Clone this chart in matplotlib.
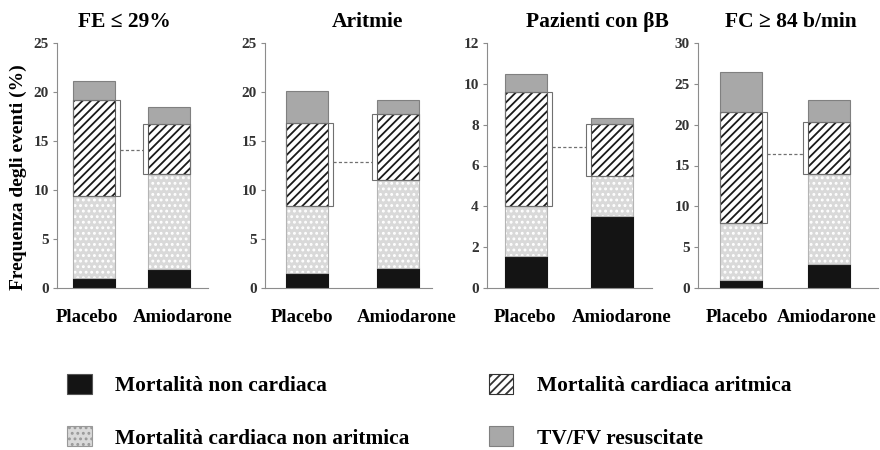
import matplotlib
matplotlib.use("Agg")
import matplotlib.pyplot as plt
from matplotlib.patches import Patch, Rectangle

plt.rcParams['font.family'] = ['Liberation Serif', 'DejaVu Serif']
plt.rcParams['font.weight'] = 'bold'
plt.rcParams['hatch.linewidth'] = 1.3

# dati
gruppi = ['Placebo', 'Amiodarone']
titoli = ['FE \u2264 29%', 'Aritmie', 'Pazienti con \u03b2B', 'FC \u2265 84 b/min']
ymax = [25, 25, 12, 30]
ystep = [5, 5, 2, 5]
# altezze dei segmenti [Placebo, Amiodarone]
non_cardiaca = [[1.0, 1.9], [1.5, 2.0], [1.55, 3.55], [1.0, 3.0]]
cardiaca_non_aritmica = [[8.4, 9.7], [6.9, 9.0], [2.45, 1.95], [7.0, 10.9]]
cardiaca_aritmica = [[9.8, 5.1], [8.45, 6.8], [5.6, 2.55], [13.6, 6.4]]
tv_fv = [[1.9, 1.8], [3.3, 1.4], [0.9, 0.3], [4.9, 2.7]]
linea_media = [14.1, 12.9, 6.9, 16.4]

legenda = ['Mortalità non cardiaca', 'Mortalità cardiaca non aritmica',
           'Mortalità cardiaca aritmica', 'TV/FV resuscitate']

W, H = 880, 450
# pannelli in pixel: sinistra, destra, centro barra 1, centro barra 2
pannelli = [(57, 208, 93.5, 168.5), (265, 432, 306.5, 397.5),
            (487, 652, 525.5, 612), (698, 878, 740.5, 828.5)]
titolo_x = [124, 367, 597, 791]
# centri delle etichette sotto le barre (pixel)
etichette_x = [(87, 183), (302, 407), (525, 622), (737, 827)]
ax_top, ax_bot = 43, 288
barpx = 42

col_nero = '#141414'
col_punti = '#d9d9d9'
col_grigio = '#a8a8a8'
col_assi = '#8c8c8c'

fig = plt.figure(figsize=(W / 100, H / 100), dpi=100)

for i, (l, r, c1, c2) in enumerate(pannelli):
    s = c2 - c1
    ax = fig.add_axes([l / W, 1 - ax_bot / H, (r - l) / W, (ax_bot - ax_top) / H])
    ax.set_xlim((l - c1) / s, (r - c1) / s)
    ax.set_ylim(0, ymax[i])
    w = barpx / s
    x = [0, 1]
    b0 = [0, 0]
    b1 = non_cardiaca[i]
    b2 = [b1[k] + cardiaca_non_aritmica[i][k] for k in range(2)]
    b3 = [b2[k] + cardiaca_aritmica[i][k] for k in range(2)]

    ax.bar(x, non_cardiaca[i], w, bottom=b0, color=col_nero, edgecolor=col_nero, lw=0.8)
    ax.bar(x, cardiaca_non_aritmica[i], w, bottom=b1, color=col_punti,
           edgecolor='white', lw=0, hatch='...')
    ax.bar(x, cardiaca_non_aritmica[i], w, bottom=b1, fill=False, edgecolor='#b5b5b5', lw=0.8)
    ax.bar(x, cardiaca_aritmica[i], w, bottom=b2, color='white',
           edgecolor='#1a1a1a', lw=0, hatch='////')
    ax.bar(x, cardiaca_aritmica[i], w, bottom=b2, fill=False, edgecolor='#555555', lw=0.8)
    ax.bar(x, tv_fv[i], w, bottom=b3, color=col_grigio, edgecolor='#808080', lw=0.8)

    # riquadri attorno alla mortalità aritmica
    ext = 5 / s
    ax.add_patch(Rectangle((0 - w / 2, b2[0]), w + ext, cardiaca_aritmica[i][0],
                           fill=False, edgecolor='#707070', lw=0.8))
    ax.add_patch(Rectangle((1 - w / 2 - ext, b2[1]), w + ext, cardiaca_aritmica[i][1],
                           fill=False, edgecolor='#707070', lw=0.8))
    ax.plot([w / 2 + ext, 1 - w / 2 - ext], [linea_media[i]] * 2,
            ls=(0, (2.5, 1.8)), color='#707070', lw=0.9)

    ax.spines['top'].set_visible(False)
    ax.spines['right'].set_visible(False)
    ax.spines['left'].set_color(col_assi)
    ax.spines['bottom'].set_color(col_assi)
    ax.set_yticks(range(0, ymax[i] + 1, ystep[i]))
    ax.tick_params(axis='y', length=3, width=0.8, color=col_assi,
                   labelsize=11, labelcolor='#333333', pad=3)
    ax.set_xticks([])
    for k in range(2):
        fig.text(etichette_x[i][k] / W, 1 - 318 / H, gruppi[k], ha='center', va='center',
                 fontsize=13.5)

    fig.text(titolo_x[i] / W, 1 - 22 / H, titoli[i], ha='center', va='center', fontsize=15.5)

fig.text(18 / W, 1 - 177 / H, 'Frequenza degli eventi (%)', rotation=90,
         ha='center', va='center', fontsize=14)

maniglie = [Patch(facecolor=col_nero, edgecolor='#555555', lw=0.8),
            Patch(facecolor=col_punti, edgecolor='#999999', hatch='...', lw=0.8),
            Patch(facecolor='white', edgecolor='#333333', hatch='////', lw=0.8),
            Patch(facecolor=col_grigio, edgecolor='#808080', lw=0.8)]
fig.legend(maniglie, legenda, loc='upper left', bbox_to_anchor=(67 / W, 1 - 374 / H),
           ncol=2, frameon=False, fontsize=15.4, borderpad=0, borderaxespad=0,
           handlelength=1.15, handleheight=1.06, handletextpad=1.1,
           columnspacing=3.7, labelspacing=1.4)

fig.savefig('out.png', dpi=100)
